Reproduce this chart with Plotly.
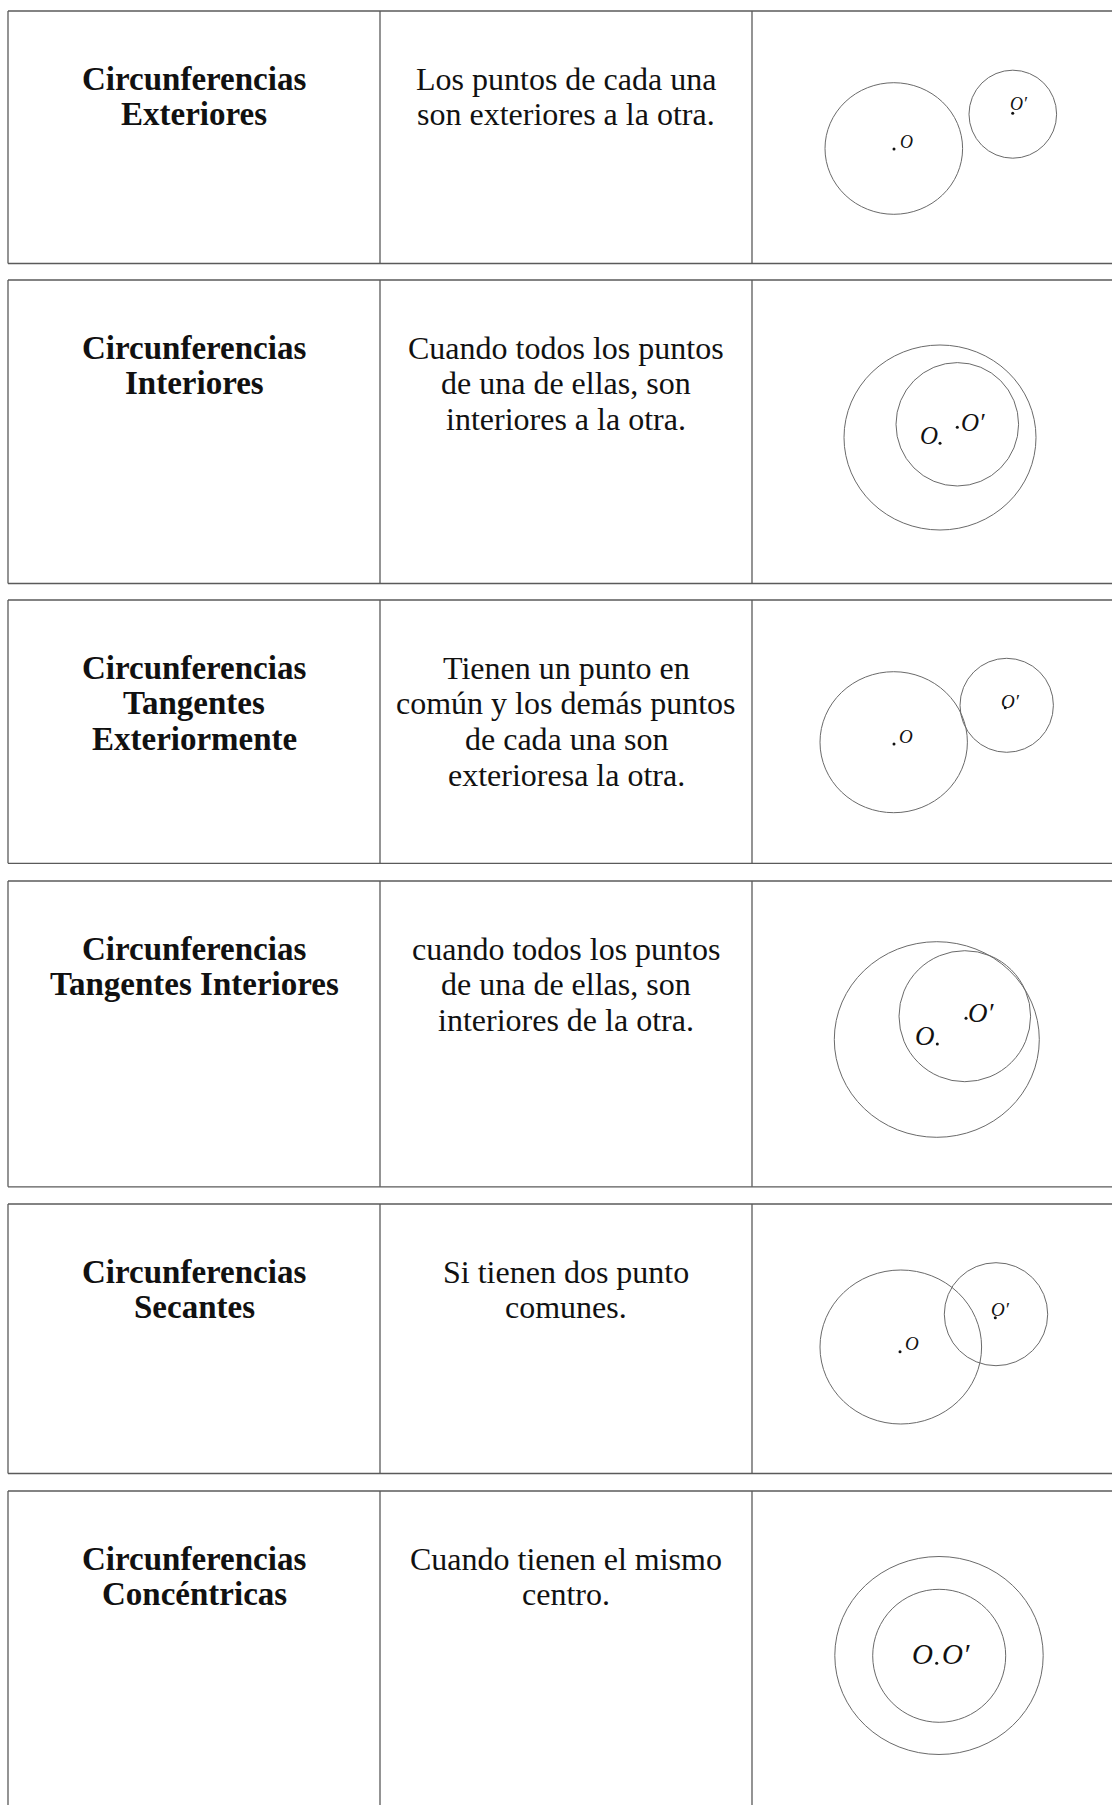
import plotly.graph_objects as go

# ---------------- data ----------------
col1_lines = [
    ["Circunferencias", "Exteriores"],
    ["Circunferencias", "Interiores"],
    ["Circunferencias", "Tangentes", "Exteriormente"],
    ["Circunferencias", "Tangentes Interiores"],
    ["Circunferencias", "Secantes"],
    ["Circunferencias", "Concéntricas"],
]
col2_lines = [
    ["Los puntos de cada una", "son exteriores a la otra."],
    ["Cuando todos los puntos", "de una de ellas, son", "interiores a la otra."],
    ["Tienen un punto en", "común y los demás puntos", "de cada una son", "exterioresa la otra."],
    ["cuando todos los puntos", "de una de ellas, son", "interiores de la otra."],
    ["Si tienen dos punto", "comunes."],
    ["Cuando tienen el mismo", "centro."],
]
# circle O (centre x, centre y, radius x, radius y) per row
circ_O_cx = [893.8, 940.0, 893.7, 936.8, 900.8, 939.0]
circ_O_cy = [148.5, 437.5, 742.2, 1039.5, 1347.0, 1655.5]
circ_O_rx = [68.8, 96.0, 73.7, 102.5, 80.8, 104.2]
circ_O_ry = [65.8, 92.5, 70.5, 97.8, 77.0, 99.0]
# circle O'
circ_P_cx = [1012.8, 957.3, 1006.7, 964.8, 996.0, 939.2]
circ_P_cy = [114.2, 424.3, 705.3, 1016.2, 1314.2, 1655.8]
circ_P_rx = [43.8, 61.3, 46.7, 65.8, 51.7, 66.5]
circ_P_ry = [44.0, 61.7, 47.0, 65.5, 51.5, 66.5]
# centre dots
dot_O = [(894, 149), (940, 443.3), (894, 744), (937.3, 1044), (900, 1351.7), (936.7, 1663.3)]
dot_P = [(1012.7, 113.3), (957.3, 427.3), (1005.3, 707.7), (966, 1018.3), (995.3, 1317.7), None]
# labels: (text, x left, y middle, size)
labels = [
    ("O", 898, 141.5, 18), ("O′", 1008, 104, 18),
    ("O", 918, 435, 25), ("O′", 959, 422.5, 25),
    ("O", 897, 736.5, 19), ("O′", 999, 701, 19),
    ("O", 913, 1036, 27), ("O′", 966, 1013, 27),
    ("O", 903, 1343.5, 19), ("O′", 989, 1309, 19),
    ("O", 910, 1654, 29), ("O′", 940, 1654, 29),
]

# ---------------- layout constants ----------------
W, H = 1112, 1805
row_top = [11, 280, 600, 881, 1204, 1491]
row_bot = [263.5, 583.5, 863.3, 1186.8, 1473.5, 1830]
x_left, x_c1, x_c2, x_right = 8, 380, 752, 1130
col1_x, col2_x = 194, 566
first_off, line_gap = 67.5, 35.8
line_col = "#5a5a5a"
circ_col = "#6a6a6a"

fig = go.Figure()
shapes = []
annotations = []

for i in range(6):
    t, b = row_top[i], row_bot[i]
    for (x0, y0, x1, y1) in [(x_left, t, x_right, t), (x_left, b, x_right, b),
                              (x_left, t, x_left, b), (x_c1, t, x_c1, b), (x_c2, t, x_c2, b)]:
        shapes.append(dict(type="line", xref="x", yref="y", x0=x0, y0=y0, x1=x1, y1=y1,
                           line=dict(color=line_col, width=1.3)))
    for cx, cy, rx, ry in [(circ_O_cx[i], circ_O_cy[i], circ_O_rx[i], circ_O_ry[i]),
                           (circ_P_cx[i], circ_P_cy[i], circ_P_rx[i], circ_P_ry[i])]:
        shapes.append(dict(type="circle", xref="x", yref="y",
                           x0=cx - rx, x1=cx + rx, y0=cy - ry, y1=cy + ry,
                           line=dict(color=circ_col, width=1)))
    for k, txt in enumerate(col1_lines[i]):
        annotations.append(dict(x=col1_x, y=t + first_off + k * line_gap, xref="x", yref="y",
                                text="<b>" + txt + "</b>", showarrow=False,
                                xanchor="center", yanchor="middle",
                                font=dict(family="Liberation Serif", size=33, color="#111")))
    for k, txt in enumerate(col2_lines[i]):
        annotations.append(dict(x=col2_x, y=t + first_off + k * line_gap, xref="x", yref="y",
                                text=txt, showarrow=False,
                                xanchor="center", yanchor="middle",
                                font=dict(family="Liberation Serif", size=32, color="#111")))

for txt, x, y, s in labels:
    annotations.append(dict(x=x, y=y, xref="x", yref="y", text="<i>" + txt + "</i>",
                            showarrow=False, xanchor="left", yanchor="middle",
                            font=dict(family="Liberation Serif", size=s, color="#111")))

dx = [p[0] for p in dot_O] + [p[0] for p in dot_P if p]
dy = [p[1] for p in dot_O] + [p[1] for p in dot_P if p]
fig.add_trace(go.Scatter(x=dx, y=dy, mode="markers",
                         marker=dict(size=3, color="#111"), hoverinfo="skip"))

fig.update_layout(
    width=W, height=H, margin=dict(l=0, r=0, t=0, b=0),
    paper_bgcolor="white", plot_bgcolor="white", showlegend=False,
    shapes=shapes, annotations=annotations,
    xaxis=dict(range=[0, W], visible=False, fixedrange=True),
    yaxis=dict(range=[H, 0], visible=False, fixedrange=True),
)
page_js = ("document.body.style.margin='0';"
           "document.body.style.overflow='hidden';"
           "document.documentElement.style.overflow='hidden';")
fig.write_html("out.html", post_script=page_js, config={"displayModeBar": False})
